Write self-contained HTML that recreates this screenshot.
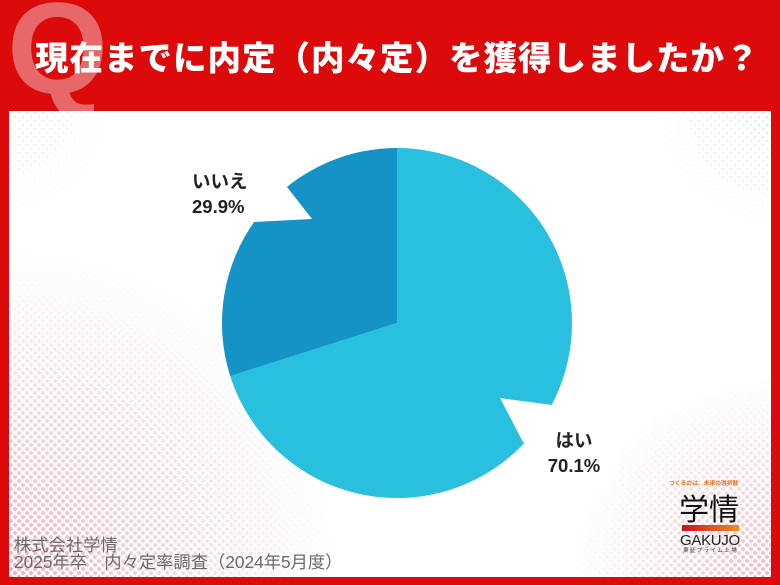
<!DOCTYPE html>
<html><head><meta charset="utf-8">
<style>
html,body{margin:0;padding:0;}
body{width:780px;height:585px;position:relative;overflow:hidden;background:#DC0A0A;font-family:"Liberation Sans","Noto Sans CJK JP",sans-serif;}
.q{position:absolute;left:7px;top:-17px;font-family:"Liberation Sans",sans-serif;font-weight:bold;font-size:130px;line-height:1;color:#E76868;}
.title{position:absolute;left:35px;top:39px;font-family:"Noto Sans CJK JP",sans-serif;font-weight:900;font-size:33.5px;letter-spacing:1px;line-height:1;color:#fff;white-space:nowrap;}
.panel{position:absolute;left:9px;top:111px;width:762px;height:466px;background:#fff;overflow:hidden;}
.lbl{position:absolute;font-family:"Liberation Sans","Noto Sans CJK JP",sans-serif;font-weight:bold;font-size:18.5px;line-height:25px;color:#222;white-space:nowrap;}
.foot{position:absolute;left:14px;top:537px;font-family:"Liberation Sans","Noto Sans CJK JP",sans-serif;font-size:17.3px;line-height:17px;color:#6a6a6a;white-space:nowrap;}
</style></head><body>
<div class="q">Q</div>
<div class="panel">
<svg width="762" height="466" viewBox="0 0 762 466" style="position:absolute;left:0;top:0">
<defs>
<pattern id="dots" width="8" height="8" patternUnits="userSpaceOnUse">
<circle cx="2" cy="2" r="2" fill="#EDA9B3"/>
<circle cx="6" cy="6" r="2" fill="#EDA9B3"/>
</pattern>
<pattern id="gdots" width="8" height="8" patternUnits="userSpaceOnUse">
<circle cx="2" cy="2" r="1.3" fill="#d8d8d8"/>
<circle cx="6" cy="6" r="1.3" fill="#d8d8d8"/>
</pattern>
<radialGradient id="fadeBL" cx="0" cy="466" r="330" gradientUnits="userSpaceOnUse">
<stop offset="0" stop-color="#fff" stop-opacity="0.9"/>
<stop offset="0.5" stop-color="#fff" stop-opacity="0.45"/>
<stop offset="1" stop-color="#fff" stop-opacity="0"/>
</radialGradient>
<radialGradient id="fadeBR" cx="762" cy="466" r="200" gradientUnits="userSpaceOnUse">
<stop offset="0" stop-color="#fff" stop-opacity="0.8"/>
<stop offset="1" stop-color="#fff" stop-opacity="0"/>
</radialGradient>
<radialGradient id="fadeTR" cx="762" cy="0" r="120" gradientUnits="userSpaceOnUse">
<stop offset="0" stop-color="#fff" stop-opacity="0.7"/>
<stop offset="1" stop-color="#fff" stop-opacity="0"/>
</radialGradient>
<radialGradient id="fadeTL" cx="0" cy="0" r="110" gradientUnits="userSpaceOnUse">
<stop offset="0" stop-color="#fff" stop-opacity="0.5"/>
<stop offset="1" stop-color="#fff" stop-opacity="0"/>
</radialGradient>
<mask id="mBL"><rect width="762" height="466" fill="url(#fadeBL)"/></mask>
<mask id="mBR"><rect width="762" height="466" fill="url(#fadeBR)"/></mask>
<mask id="mTR"><rect width="762" height="466" fill="url(#fadeTR)"/></mask>
<mask id="mTL"><rect width="762" height="466" fill="url(#fadeTL)"/></mask>
</defs>
<rect width="762" height="466" fill="url(#dots)" mask="url(#mBL)"/>
<rect width="762" height="466" fill="url(#dots)" mask="url(#mBR)"/>
<rect width="762" height="466" fill="url(#gdots)" mask="url(#mTR)"/>
<rect width="762" height="466" fill="url(#gdots)" mask="url(#mTL)"/>
</svg>
</div>
<div class="title">現在までに内定（内々定）を獲得しましたか？</div>
<svg width="780" height="585" viewBox="0 0 780 585" style="position:absolute;left:0;top:0">
<path d="M397,323 L397,148 A175,175 0 1 1 230.2,376 Z" fill="#29BFDF"/>
<path d="M397,323 L230.2,376 A175,175 0 0 1 397,148 Z" fill="#1593C6"/>
<polygon points="287,187 312,219 254,222 200,222 200,140 287,140" fill="#fff"/>
<polygon points="552,405 500,398 523,442 610,490 610,395" fill="#fff"/>
<defs>
<linearGradient id="bar" x1="0" x2="1" y1="0" y2="0">
<stop offset="0" stop-color="#C8141E"/>
<stop offset="1" stop-color="#F08C1E"/>
</linearGradient>
</defs>
<rect x="682" y="525" width="57" height="6" fill="url(#bar)"/>
</svg>
<div class="lbl" style="left:192px;top:169px;">いいえ<br>29.9%</div>
<div class="lbl" style="left:547px;top:428px;width:54px;text-align:center;">はい<br>70.1%</div>
<div class="foot">株式会社学情<br>2025年卒　内々定率調査（2024年5月度）</div>
<div style="position:absolute;left:669px;top:479px;font-family:'Noto Sans CJK JP',sans-serif;font-size:5.8px;line-height:8px;color:#E0701E;white-space:nowrap;font-weight:bold;">つくるのは、未来の選択肢</div>
<div style="position:absolute;left:679px;top:490px;font-family:'Noto Sans CJK JP',sans-serif;font-size:30px;line-height:34px;color:#111;white-space:nowrap;">学情</div>
<div style="position:absolute;left:680px;top:533px;font-family:'Liberation Sans',sans-serif;font-size:15px;line-height:15px;color:#222;white-space:nowrap;letter-spacing:-0.3px;">GAKUJO</div>
<div style="position:absolute;left:683px;top:547px;font-family:'Noto Sans CJK JP',sans-serif;font-size:5.5px;line-height:7px;color:#333;white-space:nowrap;letter-spacing:1.4px;">東証プライム上場</div>
</body></html>
